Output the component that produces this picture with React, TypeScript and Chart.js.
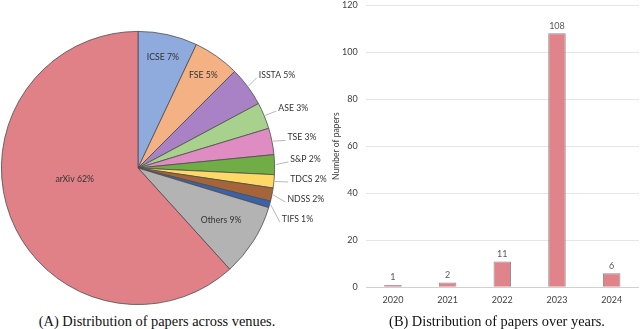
import React, { useEffect, useRef } from "react";
import { Chart, registerables } from "chart.js";

Chart.register(...registerables);

// ---- Data ----
const venues = ["ICSE", "FSE", "ISSTA", "ASE", "TSE", "S&P", "TDCS", "NDSS", "TIFS", "Others", "arXiv"];
const venueCounts = [9, 7, 6, 4, 4, 3, 2, 2, 1, 11, 79];
const venueColors = [
  "#8FAADC", "#F4B183", "#A982C6", "#A9D18E", "#DE8CC2",
  "#70AD47", "#FFD966", "#A5643A", "#3A62AA", "#B3B3B3", "#E08087",
];

const years = ["2020", "2021", "2022", "2023", "2024"];
const yearCounts = [1, 2, 11, 108, 6];
const yMax = 120;
const yStep = 20;

const captionA = "(A) Distribution of papers across venues.";
const captionB = "(B) Distribution of papers over years.";
const yTitle = "Number of papers";

const LABEL_FONT = "Lato, 'Liberation Sans', sans-serif";

const pieLabelPlugin = {
  id: "pieLabels",
  afterDatasetsDraw(chart: any) {
    const ctx = chart.ctx as CanvasRenderingContext2D;
    const meta = chart.getDatasetMeta(0);
    const data = chart.data.datasets[0].data as number[];
    const labels = chart.data.labels as string[];
    const total = data.reduce((a, b) => a + b, 0);
    ctx.save();
    ctx.font = `8.7px ${LABEL_FONT}`;
    ctx.fillStyle = "#333333";
    const outside: any[] = [];
    meta.data.forEach((arc: any, i: number) => {
      const p = arc.getProps(["x", "y", "startAngle", "endAngle", "outerRadius"], true);
      const mid = (p.startAngle + p.endAngle) / 2;
      const pct = (data[i] / total) * 100;
      const text = `${labels[i]} ${Math.round(pct)}%`;
      if (pct >= 5) {
        const f = pct > 50 ? 0.47 : pct > 8 ? 0.72 : 0.83;
        const a = pct > 50 ? mid + 0.2 : mid;
        ctx.textAlign = "center";
        ctx.textBaseline = "middle";
        ctx.fillText(text, p.x + Math.cos(a) * p.outerRadius * f, p.y + Math.sin(a) * p.outerRadius * f);
      } else {
        outside.push({
          text, mid, cx: p.x, cy: p.y, r: p.outerRadius,
          ly: p.y + Math.sin(mid) * (p.outerRadius + 20),
        });
      }
    });
    outside.sort((a, b) => a.ly - b.ly);
    const gap = 20;
    for (let it = 0; it < 100; it++) {
      for (let k = 0; k < outside.length - 1; k++) {
        const g = outside[k + 1].ly - outside[k].ly;
        if (g < gap) {
          const push = (gap - g) / 2;
          outside[k].ly -= push;
          outside[k + 1].ly += push;
        }
      }
    }
    ctx.strokeStyle = "#A6A6A6";
    ctx.lineWidth = 0.8;
    outside.forEach((o) => {
      const R = o.r + 16;
      const dy = o.ly - o.cy;
      const lx = o.cx + Math.sqrt(Math.max(0, R * R - dy * dy));
      const ax = o.cx + Math.cos(o.mid) * (o.r + 1);
      const ay = o.cy + Math.sin(o.mid) * (o.r + 1);
      ctx.beginPath();
      ctx.moveTo(ax, ay);
      ctx.lineTo(lx - 2, o.ly + 3);
      ctx.stroke();
      ctx.textAlign = "left";
      ctx.textBaseline = "middle";
      ctx.fillText(o.text, lx, o.ly);
    });
    ctx.restore();
  },
};

const barLabelPlugin = {
  id: "barLabels",
  afterDatasetsDraw(chart: any) {
    const ctx = chart.ctx as CanvasRenderingContext2D;
    const meta = chart.getDatasetMeta(0);
    const data = chart.data.datasets[0].data as number[];
    ctx.save();
    ctx.font = `9px ${LABEL_FONT}`;
    ctx.fillStyle = "#595959";
    ctx.textAlign = "center";
    ctx.textBaseline = "bottom";
    meta.data.forEach((bar: any, i: number) => {
      ctx.fillText(String(data[i]), bar.x, bar.y - 3);
    });
    ctx.restore();
  },
};

export default function App() {
  const pieRef = useRef<HTMLCanvasElement>(null);
  const barRef = useRef<HTMLCanvasElement>(null);

  useEffect(() => {
    document.body.style.margin = "0";
    const pie = new Chart(pieRef.current!, {
      type: "pie",
      data: {
        labels: venues,
        datasets: [
          {
            data: venueCounts,
            backgroundColor: venueColors,
            borderColor: "#4D4D4D",
            borderWidth: 0.8,
          },
        ],
      },
      options: {
        animation: false,
        responsive: false,
        layout: { padding: { left: 1, top: 31, right: 65, bottom: 5 } },
        plugins: { legend: { display: false }, tooltip: { enabled: false } },
      },
      plugins: [pieLabelPlugin],
    });

    const bar = new Chart(barRef.current!, {
      type: "bar",
      data: {
        labels: years,
        datasets: [
          {
            data: yearCounts,
            backgroundColor: "#E0838A",
            borderColor: "#8C8C8C",
            borderWidth: 1,
            barPercentage: 0.32,
            categoryPercentage: 1,
          },
        ],
      },
      options: {
        animation: false,
        responsive: false,
        layout: { padding: { left: 0, top: 5, right: 1, bottom: 0 } },
        plugins: { legend: { display: false }, tooltip: { enabled: false } },
        scales: {
          x: {
            grid: { display: false, drawTicks: false },
            border: { display: false },
            ticks: { color: "#404040", font: { size: 9, family: LABEL_FONT }, padding: 7 },
            afterFit: (s: any) => { s.height = 22.7; s.paddingLeft = 0; s.paddingRight = 0; },
          },
          y: {
            min: 0,
            max: yMax,
            ticks: { stepSize: yStep, color: "#404040", font: { size: 9, family: LABEL_FONT }, padding: 8 },
            grid: {
              drawTicks: false,
              color: (c: any) => (c.tick && c.tick.value === 0 ? "#D0D0D0" : "#E6E6E6"),
              lineWidth: 1,
            },
            border: { display: false },
            title: {
              display: true,
              text: yTitle,
              color: "#404040",
              font: { size: 8.5, family: LABEL_FONT },
              padding: { top: 11, bottom: 0 },
            },
            afterFit: (s: any) => { s.width = 45.6; s.paddingTop = 0; s.paddingBottom = 0; },
          },
        },
      },
      plugins: [barLabelPlugin],
    });

    return () => {
      pie.destroy();
      bar.destroy();
    };
  }, []);

  const captionStyle: React.CSSProperties = {
    position: "absolute",
    top: 313,
    fontFamily: "'Liberation Serif', serif",
    fontSize: 14.4,
    lineHeight: "16px",
    color: "#111",
    whiteSpace: "nowrap",
    transform: "translateX(-50%)",
  };

  return (
    <div style={{ position: "absolute", left: 0, top: 0, width: 640, height: 329, background: "#fff", overflow: "hidden" }}>
      <canvas ref={pieRef} width={340} height={310} style={{ position: "absolute", left: 0, top: 0, width: 340, height: 310 }} />
      <canvas ref={barRef} width={320} height={310} style={{ position: "absolute", left: 320, top: 0, width: 320, height: 310 }} />
      <div style={{ ...captionStyle, left: 157 }}>{captionA}</div>
      <div style={{ ...captionStyle, left: 497 }}>{captionB}</div>
    </div>
  );
}
